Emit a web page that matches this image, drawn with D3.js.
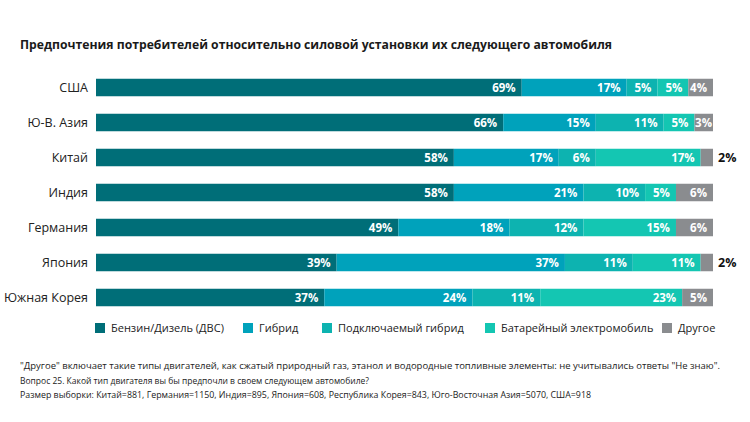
<!DOCTYPE html>
<html>
<head>
<meta charset="utf-8">
<script src="https://cdn.jsdelivr.net/npm/d3@7"></script>
<style>
  body { margin: 0; background: #fff; }
  svg { display: block; }
</style>
</head>
<body>
<svg id="svg"></svg>
<script>
// data (percent of respondents)
const countries = ["США", "Ю-В. Азия", "Китай", "Индия", "Германия", "Япония", "Южная Корея"];
const seriesNames = ["Бензин/Дизель (ДВС)", "Гибрид", "Подключаемый гибрид", "Батарейный электромобиль", "Другое"];
const ice     = [69, 66, 58, 58, 49, 39, 37];
const hybrid  = [17, 15, 17, 21, 18, 37, 24];
const plugin  = [5, 11, 6, 10, 12, 11, 11];
const battery = [5, 5, 17, 5, 15, 11, 23];
const other   = [4, 3, 2, 6, 6, 2, 5];
const colors = ["#006e78", "#00a2bb", "#0db3b0", "#14c6b2", "#8a8c8f"];

const title = "Предпочтения потребителей относительно силовой установки их следующего автомобиля";
const notes = [
  "\"Другое\" включает такие типы двигателей, как сжатый природный газ, этанол и водородные топливные элементы: не учитывались ответы \"Не знаю\".",
  "Вопрос 25. Какой тип двигателя вы бы предпочли в своем следующем автомобиле?",
  "Размер выборки: Китай=881, Германия=1150, Индия=895, Япония=608, Республика Корея=843, Юго-Восточная Азия=5070, США=918"
];

const width = 750, height = 422;
const margin = { left: 96, right: 37, top: 70, bottom: 0 };

const svg = d3.select("#svg")
  .attr("width", width)
  .attr("height", height)
  .attr("font-family", "'Open Sans', sans-serif");

// build rows for the stack
const keys = ["ice", "hybrid", "plugin", "battery", "other"];
const rows = countries.map((c, i) => ({
  country: c, ice: ice[i], hybrid: hybrid[i], plugin: plugin[i], battery: battery[i], other: other[i]
}));
const stacked = d3.stack().keys(keys)(rows);

const xScale = d3.scaleLinear()
  .domain([0, 100])
  .range([margin.left, width - margin.right]);

const yScale = d3.scaleBand()
  .domain(countries)
  .range([margin.top, 315])
  .paddingInner(0.5)
  .paddingOuter(0.25);

// TITLE
svg.append("text")
  .attr("x", 20)
  .attr("y", 49)
  .attr("font-weight", "bold")
  .attr("font-size", 13)
  .attr("textLength", 592)
  .attr("lengthAdjust", "spacingAndGlyphs")
  .attr("fill", "#1a1a1a")
  .text(title);

// Y AXIS (labels only)
svg.append("g")
  .attr("transform", `translate(${margin.left - 4}, 0)`)
  .call(d3.axisLeft(yScale).tickSize(0).tickPadding(4))
  .call(g => g.select(".domain").remove())
  .selectAll("text")
  .attr("font-family", "'Open Sans', sans-serif")
  .attr("font-size", 12.5)
  .attr("fill", "#222");

// BARS
const layer = svg.append("g")
  .selectAll("g")
  .data(stacked)
  .enter()
  .append("g")
  .attr("fill", (d, i) => colors[i]);

layer.selectAll("rect")
  .data(d => d)
  .enter()
  .append("rect")
  .attr("x", d => xScale(d[0]))
  .attr("y", d => yScale(d.data.country))
  .attr("width", d => xScale(d[1]) - xScale(d[0]))
  .attr("height", yScale.bandwidth());

// VALUE LABELS
stacked.forEach((s, si) => {
  svg.append("g")
    .selectAll("text")
    .data(s)
    .enter()
    .append("text")
    .each(function(d) {
      const v = d[1] - d[0];
      const segW = xScale(d[1]) - xScale(d[0]);
      const t = d3.select(this)
        .attr("y", yScale(d.data.country) + yScale.bandwidth() / 2)
        .attr("dy", "0.36em")
        .attr("font-weight", "bold")
        .text(v + "%");
      if (segW < 16) {
        // too narrow, put it outside the bar
        t.attr("x", xScale(100) + 5)
          .attr("text-anchor", "start")
          .attr("font-size", 12.5)
          .attr("fill", "#111");
      } else {
        t.attr("x", xScale(d[1]) - (segW < 22 ? 1 : 6))
          .attr("text-anchor", "end")
          .attr("font-size", 11.5)
          .attr("fill", "#fff");
      }
    });
});

// LEGEND
const legendX = [95, 243, 322, 485, 662];
const legend = svg.append("g")
  .selectAll("g")
  .data(seriesNames)
  .enter()
  .append("g")
  .attr("transform", (d, i) => `translate(${legendX[i]}, 323)`);

legend.append("rect")
  .attr("width", 10)
  .attr("height", 10)
  .attr("fill", (d, i) => colors[i]);

legend.append("text")
  .attr("x", 16)
  .attr("y", 5)
  .attr("dy", "0.36em")
  .attr("font-size", 11)
  .attr("fill", "#222")
  .text(d => d);

// FOOTNOTES
const noteLen = [700, 349, 571];
svg.append("g")
  .selectAll("text")
  .data(notes)
  .enter()
  .append("text")
  .attr("x", 20)
  .attr("y", (d, i) => 369 + i * 14.5)
  .attr("font-size", 9.5)
  .attr("textLength", (d, i) => noteLen[i])
  .attr("lengthAdjust", "spacingAndGlyphs")
  .attr("fill", "#222")
  .text(d => d);
</script>
</body>
</html>
